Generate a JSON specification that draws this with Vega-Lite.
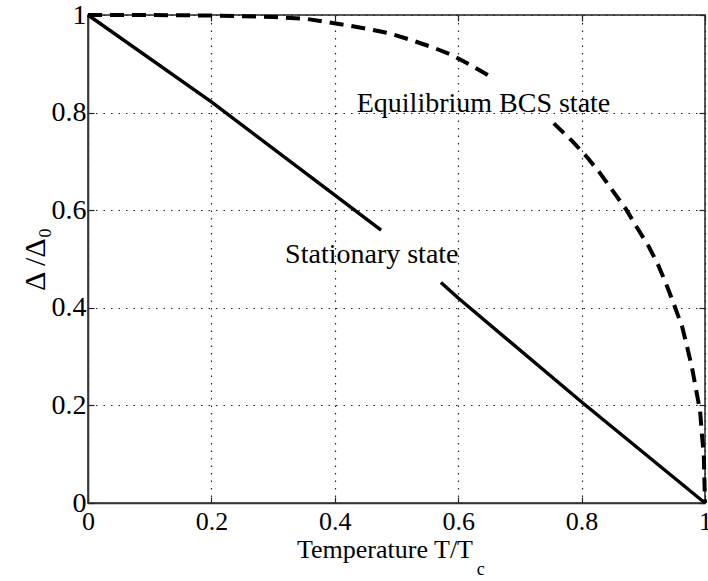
{
  "$schema": "https://vega.github.io/schema/vega-lite/v6.json",
  "width": 617,
  "height": 488,
  "autosize": "none",
  "padding": {"left": 88, "top": 15, "right": 3, "bottom": 78},
  "background": "white",
  "config": {
    "view": {"stroke": "#222", "strokeWidth": 1.5},
    "font": "Liberation Serif, DejaVu Serif, serif",
    "axis": {
      "labelFont": "Liberation Serif, DejaVu Serif, serif",
      "labelFontSize": 28,
      "labelColor": "black",
      "titleFont": "Liberation Serif, DejaVu Serif, serif",
      "titleFontSize": 30,
      "titleFontWeight": "normal",
      "titleColor": "black",
      "tickColor": "#222",
      "tickSize": -6,
      "tickWidth": 1.2,
      "domainColor": "#333",
      "domainWidth": 1.5,
      "gridColor": "#222",
      "gridDash": [1.5, 6],
      "gridWidth": 1.2,
      "gridOpacity": 1
    }
  },
  "datasets": {
    "curves": [
      {"series": "Stationary state", "seg": "s1", "T": 0.0, "D": 1.0},
      {"series": "Stationary state", "seg": "s1", "T": 0.2, "D": 0.822},
      {"series": "Stationary state", "seg": "s1", "T": 0.4, "D": 0.631},
      {"series": "Stationary state", "seg": "s1", "T": 0.475, "D": 0.559},
      {"series": "Stationary state", "seg": "s2", "T": 0.572, "D": 0.452},
      {"series": "Stationary state", "seg": "s2", "T": 0.6, "D": 0.42},
      {"series": "Stationary state", "seg": "s2", "T": 0.8, "D": 0.207},
      {"series": "Stationary state", "seg": "s2", "T": 1.0, "D": 0.0},
      {"series": "Equilibrium BCS state", "seg": "b1", "T": 0.0, "D": 1.0},
      {"series": "Equilibrium BCS state", "seg": "b1", "T": 0.1, "D": 1.0},
      {"series": "Equilibrium BCS state", "seg": "b1", "T": 0.2, "D": 0.999},
      {"series": "Equilibrium BCS state", "seg": "b1", "T": 0.3, "D": 0.996},
      {"series": "Equilibrium BCS state", "seg": "b1", "T": 0.354, "D": 0.992},
      {"series": "Equilibrium BCS state", "seg": "b1", "T": 0.39, "D": 0.985},
      {"series": "Equilibrium BCS state", "seg": "b1", "T": 0.42, "D": 0.979},
      {"series": "Equilibrium BCS state", "seg": "b1", "T": 0.456, "D": 0.971},
      {"series": "Equilibrium BCS state", "seg": "b1", "T": 0.49, "D": 0.962},
      {"series": "Equilibrium BCS state", "seg": "b1", "T": 0.523, "D": 0.949},
      {"series": "Equilibrium BCS state", "seg": "b1", "T": 0.558, "D": 0.934},
      {"series": "Equilibrium BCS state", "seg": "b1", "T": 0.59, "D": 0.918},
      {"series": "Equilibrium BCS state", "seg": "b1", "T": 0.619, "D": 0.898},
      {"series": "Equilibrium BCS state", "seg": "b1", "T": 0.655, "D": 0.872},
      {"series": "Equilibrium BCS state", "seg": "b2", "T": 0.755, "D": 0.778},
      {"series": "Equilibrium BCS state", "seg": "b2", "T": 0.786, "D": 0.74},
      {"series": "Equilibrium BCS state", "seg": "b2", "T": 0.81, "D": 0.707},
      {"series": "Equilibrium BCS state", "seg": "b2", "T": 0.831, "D": 0.674},
      {"series": "Equilibrium BCS state", "seg": "b2", "T": 0.852, "D": 0.637},
      {"series": "Equilibrium BCS state", "seg": "b2", "T": 0.872, "D": 0.602},
      {"series": "Equilibrium BCS state", "seg": "b2", "T": 0.89, "D": 0.564},
      {"series": "Equilibrium BCS state", "seg": "b2", "T": 0.909, "D": 0.525},
      {"series": "Equilibrium BCS state", "seg": "b2", "T": 0.924, "D": 0.488},
      {"series": "Equilibrium BCS state", "seg": "b2", "T": 0.937, "D": 0.449},
      {"series": "Equilibrium BCS state", "seg": "b2", "T": 0.95, "D": 0.406},
      {"series": "Equilibrium BCS state", "seg": "b2", "T": 0.963, "D": 0.361},
      {"series": "Equilibrium BCS state", "seg": "b2", "T": 0.971, "D": 0.32},
      {"series": "Equilibrium BCS state", "seg": "b2", "T": 0.979, "D": 0.277},
      {"series": "Equilibrium BCS state", "seg": "b2", "T": 0.985, "D": 0.236},
      {"series": "Equilibrium BCS state", "seg": "b2", "T": 0.992, "D": 0.189},
      {"series": "Equilibrium BCS state", "seg": "b2", "T": 0.995, "D": 0.14},
      {"series": "Equilibrium BCS state", "seg": "b2", "T": 0.998, "D": 0.1},
      {"series": "Equilibrium BCS state", "seg": "b2", "T": 0.999, "D": 0.05},
      {"series": "Equilibrium BCS state", "seg": "b2", "T": 1.0, "D": 0.0}
    ],
    "labels": [
      {"label": "Equilibrium BCS state", "T": 0.641, "D": 0.801},
      {"label": "Stationary state", "T": 0.46, "D": 0.492}
    ],
    "xtitle": [{"label": "Temperature T/T", "T": 0.624, "D": -0.1127}],
    "xsub": [{"label": "c", "T": 0.63, "D": -0.148}]
  },
  "layer": [
    {
      "data": {"name": "curves"},
      "transform": [{"filter": "datum.series === 'Stationary state'"}],
      "mark": {"type": "line", "color": "black", "strokeWidth": 3.4},
      "encoding": {
        "x": {
          "field": "T", "type": "quantitative",
          "scale": {"domain": [0, 1], "nice": false},
          "axis": {"orient": "bottom", "values": [0, 0.2, 0.4, 0.6, 0.8, 1], "format": "~g", "title": null, "grid": true, "labelFontSize": 26, "labelPadding": 11, "labelFlush": false}
        },
        "y": {
          "field": "D", "type": "quantitative",
          "scale": {"domain": [0, 1], "nice": false},
          "axis": {"orient": "left", "values": [0, 0.2, 0.4, 0.6, 0.8, 1], "format": "~g", "title": "Δ /Δ₀", "grid": true, "labelPadding": 8, "labelFlush": false, "titlePadding": 1}
        },
        "detail": {"field": "seg"}
      }
    },
    {
      "data": {"name": "curves"},
      "transform": [{"filter": "datum.series === 'Equilibrium BCS state'"}],
      "mark": {"type": "line", "color": "black", "strokeWidth": 4, "strokeDash": [14, 8]},
      "encoding": {
        "x": {"field": "T", "type": "quantitative", "axis": null},
        "y": {"field": "D", "type": "quantitative", "axis": null},
        "detail": {"field": "seg"}
      }
    },
    {
      "data": {"name": "labels"},
      "mark": {"type": "text", "font": "Liberation Serif, DejaVu Serif, serif", "fontSize": 28, "align": "center", "baseline": "alphabetic", "color": "black"},
      "encoding": {
        "x": {"field": "T", "type": "quantitative", "axis": {"orient": "top", "values": [0, 0.2, 0.4, 0.6, 0.8, 1], "labels": false, "title": null, "grid": false, "domain": false}},
        "y": {"field": "D", "type": "quantitative", "axis": {"orient": "right", "values": [0, 0.2, 0.4, 0.6, 0.8, 1], "labels": false, "title": null, "grid": false, "domain": false}},
        "text": {"field": "label"}
      }
    },
    {
      "data": {"name": "xtitle"},
      "mark": {"type": "text", "font": "Liberation Serif, DejaVu Serif, serif", "fontSize": 26, "align": "right", "baseline": "alphabetic", "color": "black"},
      "encoding": {
        "x": {"field": "T", "type": "quantitative", "axis": null},
        "y": {"field": "D", "type": "quantitative", "axis": null},
        "text": {"field": "label"}
      }
    },
    {
      "data": {"name": "xsub"},
      "mark": {"type": "text", "font": "Liberation Serif, DejaVu Serif, serif", "fontSize": 18, "align": "left", "baseline": "alphabetic", "color": "black"},
      "encoding": {
        "x": {"field": "T", "type": "quantitative", "axis": null},
        "y": {"field": "D", "type": "quantitative", "axis": null},
        "text": {"field": "label"}
      }
    }
  ],
  "resolve": {"axis": {"x": "independent", "y": "independent"}}
}
